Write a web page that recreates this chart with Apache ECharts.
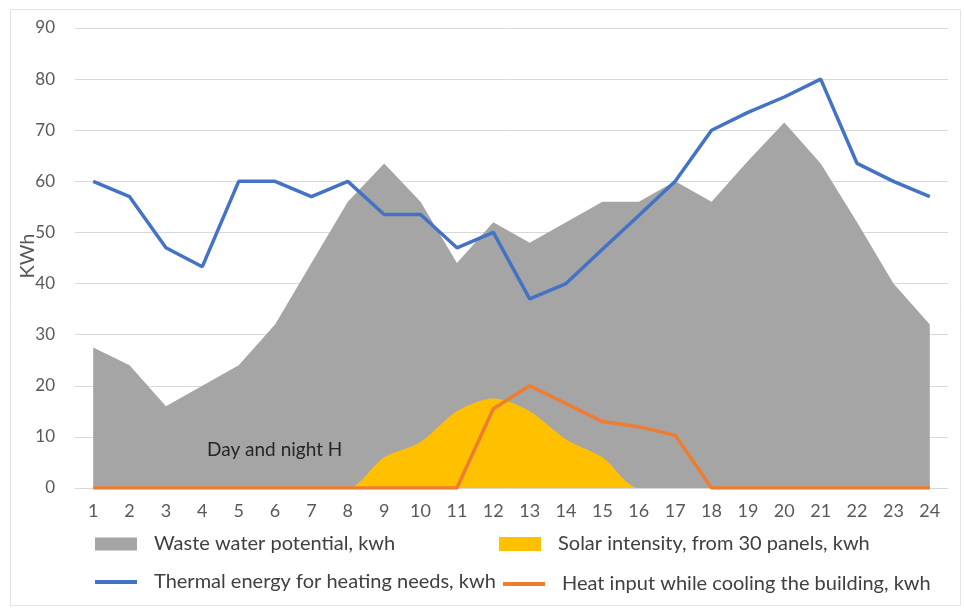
<!DOCTYPE html>
<html>
<head>
<meta charset="utf-8">
<script src="https://cdn.jsdelivr.net/npm/echarts@6/dist/echarts.min.js"></script>
<style>
  html, body { margin: 0; padding: 0; background: #fff; }
  #chart { width: 964px; height: 608px; }
</style>
</head>
<body>
<div id="chart"></div>
<script>
// hours of the day
var hours = ['1','2','3','4','5','6','7','8','9','10','11','12','13','14','15','16','17','18','19','20','21','22','23','24'];
// values, kWh
var wasteWater = [27.5, 24, 16, 20, 24, 32, 44, 56, 63.5, 56, 44, 52, 48, 52, 56, 56, 60, 56, 64, 71.5, 63.5, 52, 40, 32];
var solar = [0, 0, 0, 0, 0, 0, 0, 0, 6, 9, 15, 17.5, 15, 9.5, 6, 0, 0, 0, 0, 0, 0, 0, 0, 0];
var thermal = [60, 57, 47, 43.3, 60, 60, 57, 60, 53.5, 53.5, 47, 50, 37, 40, 46.7, 53.3, 60, 70, 73.5, 76.5, 80, 63.5, 60, 57];
var heatInput = [0, 0, 0, 0, 0, 0, 0, 0, 0, 0, 0, 15.5, 20, 16.5, 13, 12, 10.3, 0, 0, 0, 0, 0, 0, 0];
var yTicks = {min: 0, max: 90, step: 10};

var FONT = 'Lato, "Open Sans", sans-serif';
var txt = '#404040';
var axisTxt = '#595959';

var chart = echarts.init(document.getElementById('chart'));

// one legend block per entry so each can sit where the original puts it
function legendAt(name, left, top, h) {
  return {
    data: [{name: name, icon: 'rect'}],
    left: left, top: top,
    itemWidth: 42, itemHeight: h,
    textStyle: {fontFamily: FONT, fontSize: 20, color: txt, padding: [0, 0, 0, 12]},
    selectedMode: false
  };
}

chart.setOption({
  animation: false,
  backgroundColor: '#fff',
  grid: {left: 75, right: 16, top: 28, bottom: 120, outerBoundsMode: 'none'},
  legend: [
    legendAt('Waste water potential, kwh', 90, 529, 13),
    legendAt('Thermal energy for heating needs, kwh', 90, 567, 4),
    legendAt('Solar intensity, from 30 panels, kwh', 494, 529, 14),
    legendAt('Heat input while cooling the building, kwh', 498, 569, 4)
  ],
  xAxis: {
    type: 'category',
    data: hours,
    boundaryGap: true,
    axisLine: {show: true, lineStyle: {color: '#d9d9d9'}},
    axisTick: {show: false},
    axisLabel: {fontFamily: FONT, fontSize: 18, color: axisTxt, margin: 14}
  },
  yAxis: {
    type: 'value',
    min: yTicks.min, max: yTicks.max, interval: yTicks.step,
    axisLine: {show: false},
    axisTick: {show: false},
    axisLabel: {fontFamily: FONT, fontSize: 17, color: axisTxt, margin: 20},
    splitLine: {lineStyle: {color: '#d9d9d9'}}
  },
  graphic: [
    {
      type: 'rect', left: 8, top: 7, z: -10,
      shape: {width: 950, height: 596},
      style: {fill: 'none', stroke: '#e3e3e3', lineWidth: 1}
    },
    {
      // y axis title, sits over the tick labels as in the original
      type: 'text', x: 28, y: 256, rotation: Math.PI / 2, z: 100,
      style: {text: 'KWh', fontFamily: FONT, fontSize: 20, fill: axisTxt,
              align: 'center', verticalAlign: 'middle'}
    },
    {
      type: 'text', left: 207, top: 440, z: 100,
      style: {text: 'Day and night H', fontFamily: FONT, fontSize: 19, fill: '#262626'}
    }
  ],
  series: [
    {
      name: 'Waste water potential, kwh',
      type: 'line',
      data: wasteWater,
      showSymbol: false,
      lineStyle: {width: 0},
      itemStyle: {color: '#a5a5a5'},
      areaStyle: {color: '#a5a5a5', opacity: 1},
      z: 1
    },
    {
      name: 'Solar intensity, from 30 panels, kwh',
      type: 'line',
      data: solar,
      smooth: 0.3,
      showSymbol: false,
      lineStyle: {width: 0},
      itemStyle: {color: '#ffc000'},
      areaStyle: {color: '#ffc000', opacity: 1},
      z: 2
    },
    {
      name: 'Thermal energy for heating needs, kwh',
      type: 'line',
      data: thermal,
      showSymbol: false,
      lineStyle: {width: 3.5, color: '#4472c4'},
      itemStyle: {color: '#4472c4'},
      z: 4
    },
    {
      name: 'Heat input while cooling the building, kwh',
      type: 'line',
      data: heatInput,
      showSymbol: false,
      lineStyle: {width: 3.5, color: '#ed7d31'},
      itemStyle: {color: '#ed7d31'},
      z: 3
    }
  ]
});
</script>
</body>
</html>
